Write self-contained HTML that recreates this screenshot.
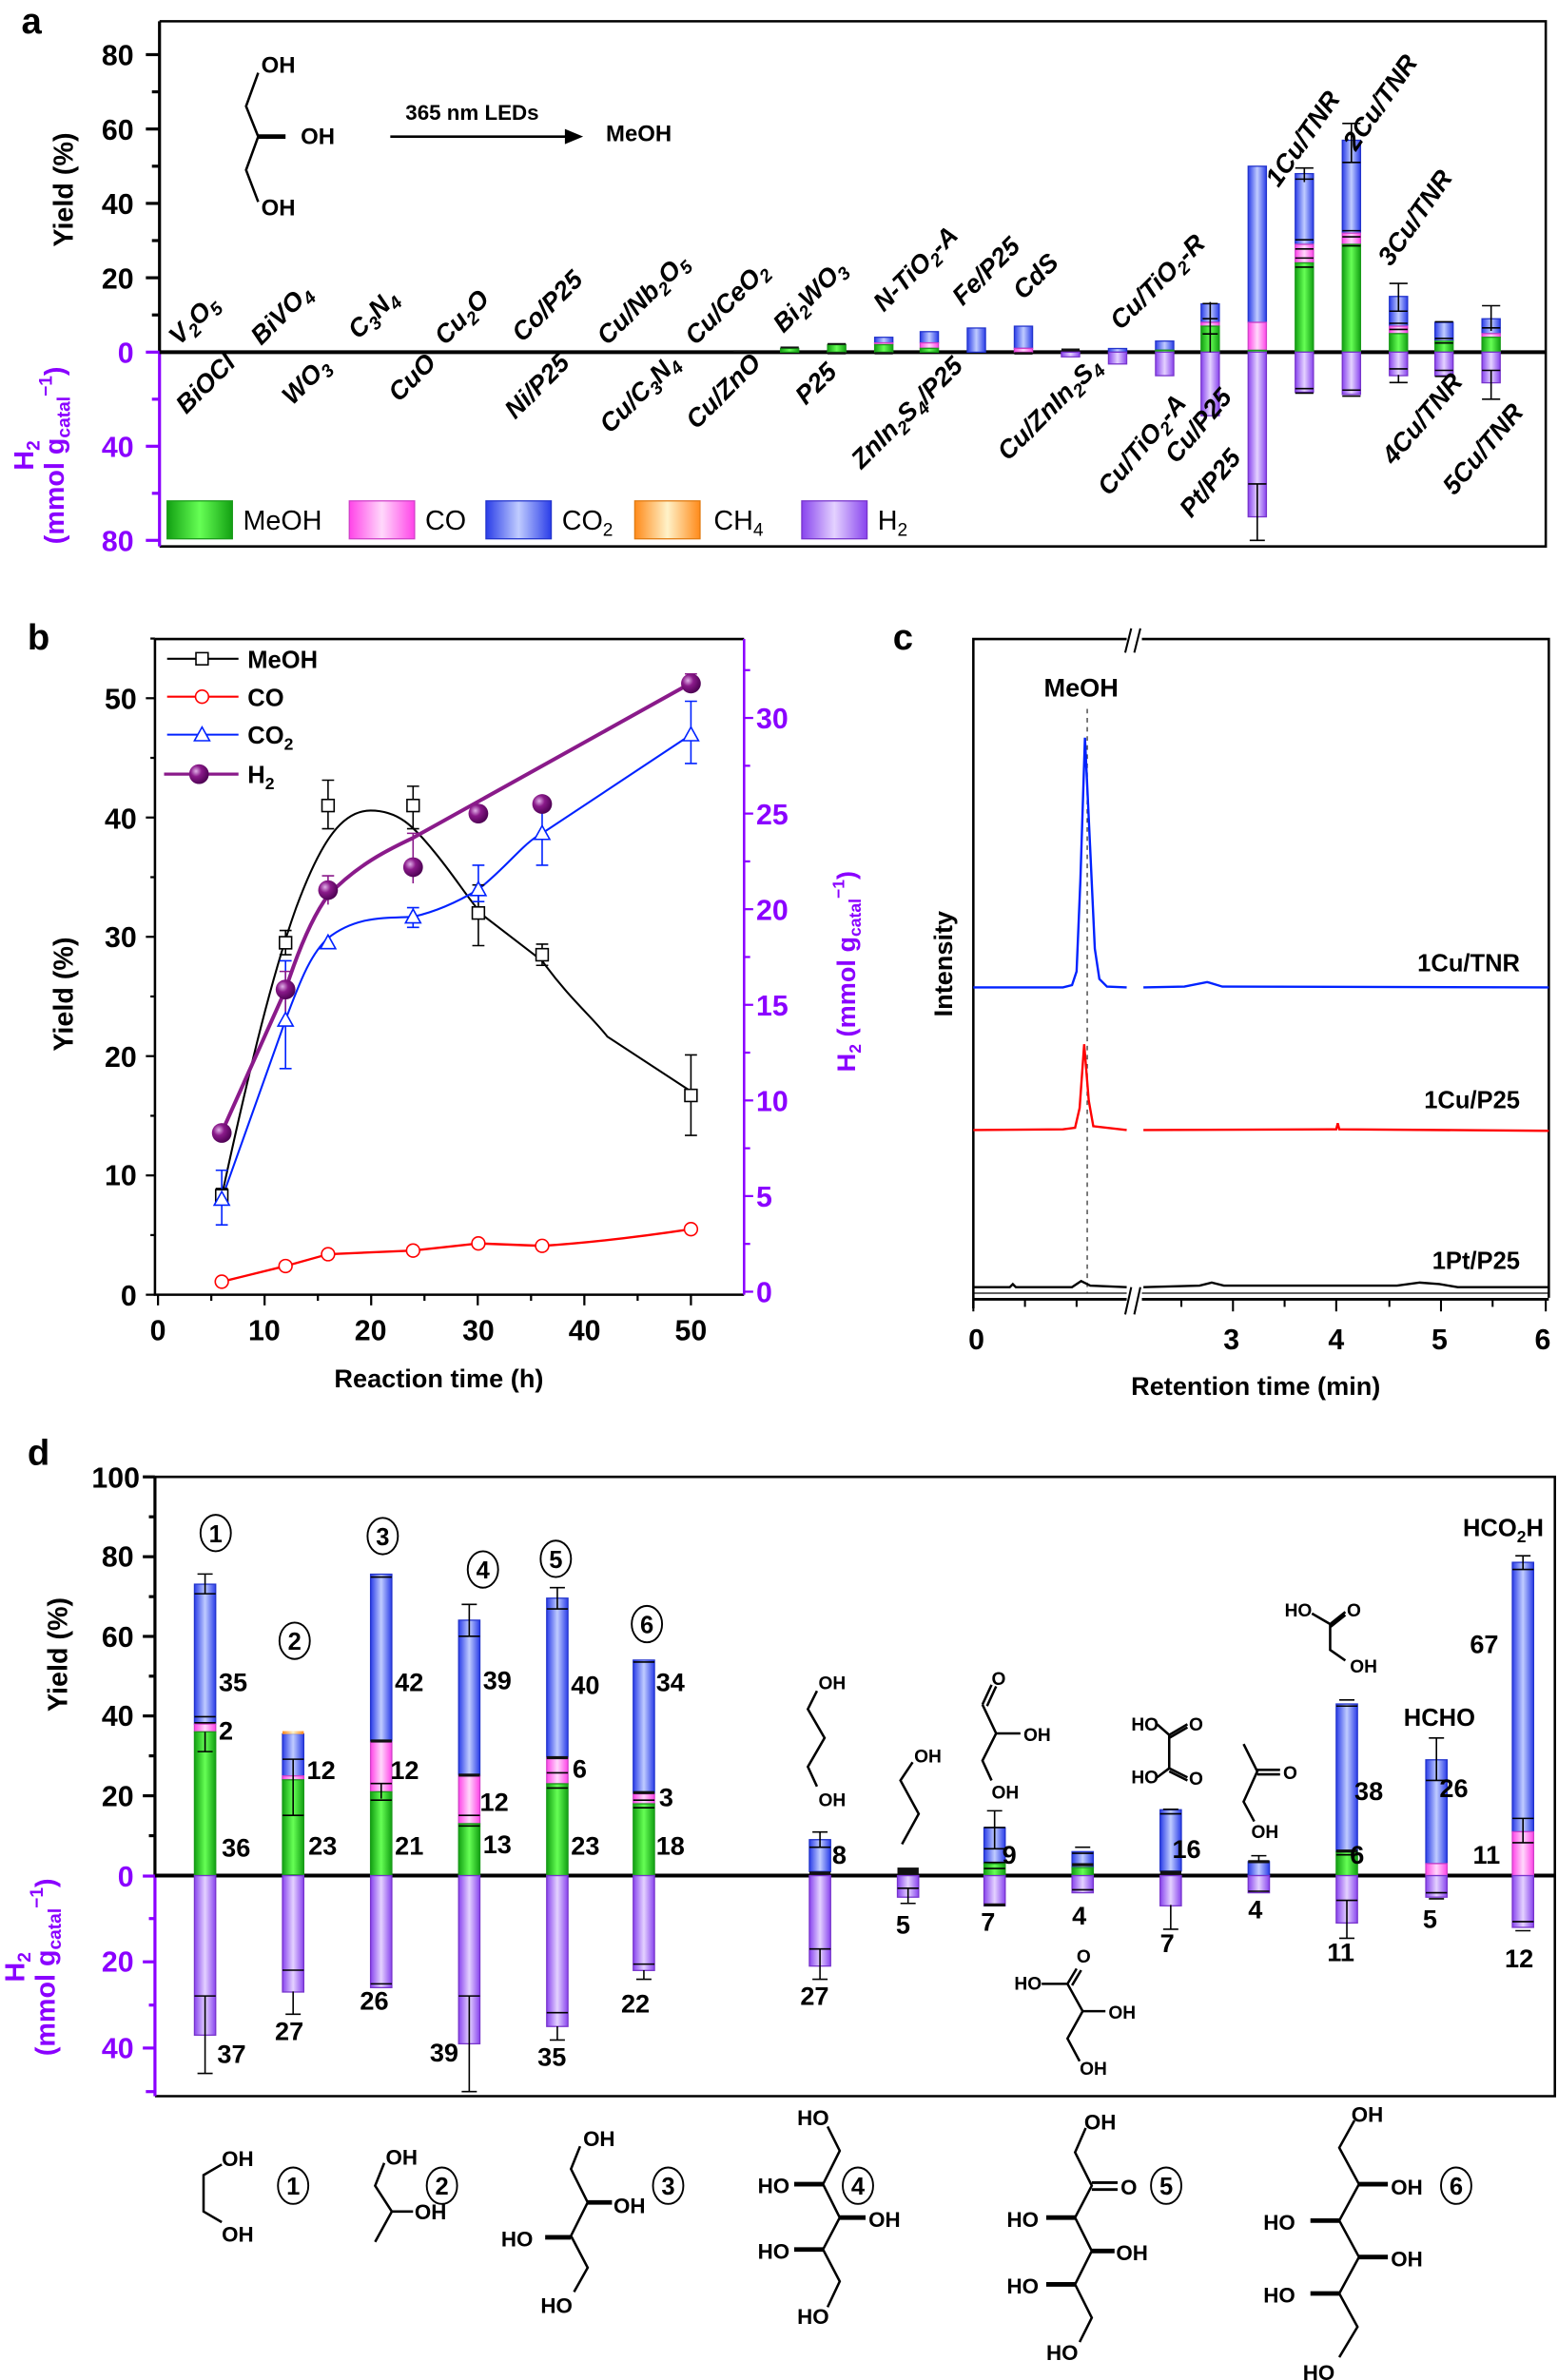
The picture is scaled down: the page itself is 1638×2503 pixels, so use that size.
<!DOCTYPE html>
<html><head><meta charset="utf-8"><style>
html,body{margin:0;padding:0;background:#fff}
svg{display:block}
text{font-family:"Liberation Sans",sans-serif}
.b{font-weight:bold}
.tk{font-weight:bold;font-size:19px}
.cat{font-weight:bold;font-style:italic;font-size:17px}
.num{font-weight:bold;font-size:17px}
.mol{font-weight:bold;font-size:12px}
.molb{font-weight:bold;font-size:14px}
.ln{stroke:#000;stroke-width:1.6;fill:none}
.g{fill:url(#gG);stroke:#1a9a1a;stroke-width:.8}
.p{fill:url(#gP);stroke:#d040c8;stroke-width:.8}
.c{fill:url(#gC);stroke:#2233cc;stroke-width:.8}
.h{fill:url(#gH);stroke:#7733cc;stroke-width:.8}
.k{fill:#111}
.e{stroke:#000;stroke-width:1;fill:none}
.pu{fill:#8a00ff}
</style></head><body>
<svg width="1638" height="2503" viewBox="0 0 1026 1568" xmlns="http://www.w3.org/2000/svg">
<defs>
<linearGradient id="gG"><stop offset="0" stop-color="#12a012"/><stop offset=".5" stop-color="#66ff55"/><stop offset="1" stop-color="#12a012"/></linearGradient>
<linearGradient id="gP"><stop offset="0" stop-color="#ff44e8"/><stop offset=".5" stop-color="#ffd8fb"/><stop offset="1" stop-color="#ff44e8"/></linearGradient>
<linearGradient id="gC"><stop offset="0" stop-color="#2a3de8"/><stop offset=".5" stop-color="#c0ccff"/><stop offset="1" stop-color="#2a3de8"/></linearGradient>
<linearGradient id="gO"><stop offset="0" stop-color="#ff8a1a"/><stop offset=".5" stop-color="#fff2c8"/><stop offset="1" stop-color="#ff8a1a"/></linearGradient>
<linearGradient id="gH"><stop offset="0" stop-color="#8844ee"/><stop offset=".5" stop-color="#e4d2ff"/><stop offset="1" stop-color="#8844ee"/></linearGradient>
<radialGradient id="gS" cx=".35" cy=".35" r=".7"><stop offset="0" stop-color="#e0b0e8"/><stop offset=".4" stop-color="#8a1a8a"/><stop offset="1" stop-color="#4a0050"/></radialGradient>
</defs>

<!-- ================= PANEL A ================= -->
<text x="14" y="22" class="b" font-size="24">a</text>
<path d="M105,14 H1018 V360 H105" class="ln" stroke-width="2.2"/>
<line x1="105" y1="14" x2="105" y2="232" stroke="#000" stroke-width="2"/>
<line x1="105" y1="232" x2="105" y2="360" stroke="#8a00ff" stroke-width="2"/>
<g stroke="#000" stroke-width="2">
<line x1="96" y1="36" x2="105" y2="36"/><line x1="100" y1="60.5" x2="105" y2="60.5"/>
<line x1="96" y1="85" x2="105" y2="85"/><line x1="100" y1="109.5" x2="105" y2="109.5"/>
<line x1="96" y1="134" x2="105" y2="134"/><line x1="100" y1="158.5" x2="105" y2="158.5"/>
<line x1="96" y1="183" x2="105" y2="183"/><line x1="100" y1="207.5" x2="105" y2="207.5"/>
</g>
<g stroke="#8a00ff" stroke-width="2">
<line x1="96" y1="232" x2="105" y2="232"/><line x1="100" y1="263" x2="105" y2="263"/>
<line x1="96" y1="294" x2="105" y2="294"/><line x1="100" y1="325" x2="105" y2="325"/><line x1="96" y1="356" x2="105" y2="356"/>
</g>
<g class="tk" text-anchor="end">
<text x="88" y="43">80</text><text x="88" y="92">60</text><text x="88" y="141">40</text><text x="88" y="190">20</text>
<text x="88" y="239" class="pu">0</text><text x="88" y="301" class="pu">40</text><text x="88" y="363" class="pu">80</text>
</g>
<text transform="translate(48,125) rotate(-90)" text-anchor="middle" class="b" font-size="18">Yield (%)</text>
<text transform="translate(22,300) rotate(-90)" text-anchor="middle" class="b pu" font-size="18">H<tspan font-size="12" dy="4">2</tspan></text>
<text transform="translate(42,300) rotate(-90)" text-anchor="middle" class="b pu" font-size="18">(mmol g<tspan font-size="12" dy="4">catal</tspan><tspan font-size="12" dy="-12">−1</tspan><tspan dy="8">)</tspan></text>
<path d="M170,48 L162,70 L170,90 L162,112 L170,133" class="ln"/>
<line x1="170" y1="90" x2="188" y2="90" stroke="#000" stroke-width="3"/>
<text x="172" y="48" class="b" font-size="15">OH</text>
<text x="198" y="95" class="b" font-size="15">OH</text>
<text x="172" y="142" class="b" font-size="15">OH</text>
<line x1="257" y1="90" x2="375" y2="90" stroke="#000" stroke-width="1.6"/>
<path d="M372,85 L384,90 L372,95 Z"/>
<text x="267" y="79" class="b" font-size="14">365 nm LEDs</text>
<text x="399" y="93" class="b" font-size="15">MeOH</text>
<line x1="105" y1="232" x2="1018" y2="232" stroke="#000" stroke-width="2.5"/>

<g>
<rect x="483" y="230.8" width="12" height="1.2" class="k"/>
<rect x="514" y="229.5" width="12" height="2.5" class="g"/><rect x="514" y="228.3" width="12" height="1.2" class="k"/>
<rect x="545" y="227.1" width="12" height="4.9" class="g"/><rect x="545" y="226" width="12" height="1.2" class="k"/><rect x="545" y="232" width="12" height="1.5" class="k"/>
<rect x="576" y="222.2" width="12" height="3.7" class="c"/><rect x="576" y="225.9" width="12" height="1.2" class="p"/><rect x="576" y="227.1" width="12" height="4.9" class="g"/><rect x="576" y="232" width="12" height="1.5" class="k"/>
<rect x="606" y="218.5" width="12" height="7.4" class="c"/><rect x="606" y="225.9" width="12" height="3.6" class="p"/><rect x="606" y="229.5" width="12" height="2.5" class="g"/>
<rect x="637" y="216.1" width="12" height="15.9" class="c"/>
<rect x="668" y="214.9" width="12" height="14.6" class="c"/><rect x="668" y="229.5" width="12" height="2.5" class="p"/><rect x="668" y="232" width="12" height="1.6" class="k"/>
<rect x="699" y="229.6" width="12" height="2.4" class="k"/><rect x="699" y="232" width="12" height="3.1" class="h"/>
<rect x="730" y="229.6" width="12" height="2.4" class="c"/><rect x="730" y="232" width="12" height="7.8" class="h"/>
<rect x="761" y="224.7" width="12" height="6" class="c"/><rect x="761" y="230.7" width="12" height="1.3" class="g"/><rect x="761" y="232" width="12" height="15.5" class="h"/>
<rect x="791" y="200.2" width="12" height="12.2" class="c"/><rect x="791" y="212.4" width="12" height="2.5" class="p"/><rect x="791" y="214.9" width="12" height="17.1" class="g"/><rect x="791" y="232" width="12" height="41.9" class="h"/>
<path d="M797,199 V232 M792,200 H802 M792,210 H802 M792,220 H802" class="e"/>
<rect x="822" y="109.5" width="12" height="102.9" class="c"/><rect x="822" y="212.4" width="12" height="18.4" class="p"/><rect x="822" y="230.8" width="12" height="1.2" class="g"/><rect x="822" y="232" width="12" height="108.5" class="h"/>
<path d="M828,318.8 V356 M823,356 H833 M822,318.8 H834" class="e"/>
<rect x="853" y="114.4" width="12" height="46.6" class="c"/><rect x="853" y="161" width="12" height="12.2" class="p"/><rect x="853" y="173.2" width="12" height="58.8" class="g"/><rect x="853" y="232" width="12" height="26.4" class="h"/>
<path d="M859,110.7 V120 M853,110.7 H865 M853,118 H865 M853,158 H865 M853,164 H865 M853,170 H865 M853,176 H865 M853,256 H865 M853,259 H865" class="e"/>
<rect x="884" y="92.4" width="12" height="61.2" class="c"/><rect x="884" y="153.6" width="12" height="7.4" class="p"/><rect x="884" y="161" width="12" height="71" class="g"/><rect x="884" y="232" width="12" height="27.9" class="h"/>
<path d="M890,81.3 V107 M884,81.3 H896 M884,107 H896 M884,152 H896 M884,156 H896 M884,162 H896 M884,257 H896 M884,261 H896" class="e"/>
<rect x="915" y="195.3" width="12" height="19.6" class="c"/><rect x="915" y="214.9" width="12" height="4.9" class="p"/><rect x="915" y="219.8" width="12" height="12.2" class="g"/><rect x="915" y="232" width="12" height="15.5" class="h"/>
<path d="M921,186.7 V205 M915,186.7 H927 M915,205 H927 M915,213 H927 M915,217 H927 M921,247 V252 M915,252 H927 M915,243 H927" class="e"/>
<rect x="945" y="212.4" width="12" height="12.3" class="c"/><rect x="945" y="224.7" width="12" height="7.3" class="g"/><rect x="945" y="232" width="12" height="15.5" class="h"/>
<path d="M945,212 H957 M945,223 H957 M945,226 H957 M945,244 H957 M945,248 H957" class="e"/>
<rect x="976" y="210" width="12" height="9.8" class="c"/><rect x="976" y="219.8" width="12" height="2.4" class="p"/><rect x="976" y="222.2" width="12" height="9.8" class="g"/><rect x="976" y="232" width="12" height="20.2" class="h"/>
<path d="M982,201.4 V218 M976,201.4 H988 M976,216 H988 M982,244 V263 M976,263 H988 M976,244 H988" class="e"/>
</g>

<g class="cat">
<text transform="translate(118,228) rotate(-45)">V<tspan font-size="12" dy="4">2</tspan><tspan dy="-4">O</tspan><tspan font-size="12" dy="4">5</tspan></text>
<text transform="translate(172,228) rotate(-45)">BiVO<tspan font-size="12" dy="4">4</tspan></text>
<text transform="translate(236,224) rotate(-45)">C<tspan font-size="12" dy="4">3</tspan><tspan dy="-4">N</tspan><tspan font-size="12" dy="4">4</tspan></text>
<text transform="translate(293,228) rotate(-45)">Cu<tspan font-size="12" dy="4">2</tspan><tspan dy="-4">O</tspan></text>
<text transform="translate(344,226) rotate(-45)">Co/P25</text>
<text transform="translate(400,228) rotate(-45)">Cu/Nb<tspan font-size="12" dy="4">2</tspan><tspan dy="-4">O</tspan><tspan font-size="12" dy="4">5</tspan></text>
<text transform="translate(458,228) rotate(-45)">Cu/CeO<tspan font-size="12" dy="4">2</tspan></text>
<text transform="translate(516,220) rotate(-45)">Bi<tspan font-size="12" dy="4">2</tspan><tspan dy="-4">WO</tspan><tspan font-size="12" dy="4">3</tspan></text>
<text transform="translate(582,206) rotate(-45)">N-TiO<tspan font-size="12" dy="4">2</tspan><tspan dy="-4">-A</tspan></text>
<text transform="translate(634,202) rotate(-45)">Fe/P25</text>
<text transform="translate(674,198) rotate(-45)">CdS</text>
<text transform="translate(738,218) rotate(-45)">Cu/TiO<tspan font-size="12" dy="4">2</tspan><tspan dy="-4">-R</tspan></text>
<text transform="translate(842,124) rotate(-55)">1Cu/TNR</text>
<text transform="translate(893,100) rotate(-55)">2Cu/TNR</text>
<text transform="translate(916,176) rotate(-55)">3Cu/TNR</text>
</g>
<g class="cat" text-anchor="end">
<text transform="translate(156,240) rotate(-45)">BiOCl</text>
<text transform="translate(218,242) rotate(-45)">WO<tspan font-size="12" dy="4">3</tspan></text>
<text transform="translate(288,240) rotate(-45)">CuO</text>
<text transform="translate(376,240) rotate(-45)">Ni/P25</text>
<text transform="translate(448,240) rotate(-45)">Cu/C<tspan font-size="12" dy="4">3</tspan><tspan dy="-4">N</tspan><tspan font-size="12" dy="4">4</tspan></text>
<text transform="translate(502,240) rotate(-45)">Cu/ZnO</text>
<text transform="translate(552,246) rotate(-45)">P25</text>
<text transform="translate(635,242) rotate(-45)">ZnIn<tspan font-size="12" dy="4">2</tspan><tspan dy="-4">S</tspan><tspan font-size="12" dy="4">4</tspan><tspan dy="-4">/P25</tspan></text>
<text transform="translate(726,242) rotate(-45)">Cu/ZnIn<tspan font-size="12" dy="4">2</tspan><tspan dy="-4">S</tspan><tspan font-size="12" dy="4">4</tspan></text>
<text transform="translate(782,266) rotate(-50)">Cu/TiO<tspan font-size="12" dy="4">2</tspan><tspan dy="-4">-A</tspan></text>
<text transform="translate(812,262) rotate(-50)">Cu/P25</text>
<text transform="translate(818,302) rotate(-50)">Pt/P25</text>
<text transform="translate(964,252) rotate(-50)">4Cu/TNR</text>
<text transform="translate(1004,272) rotate(-50)">5Cu/TNR</text>
</g>
<g font-size="18">
<rect x="110" y="330" width="43" height="25" class="g"/><text x="160" y="349">MeOH</text>
<rect x="230" y="330" width="43" height="25" class="p"/><text x="280" y="349">CO</text>
<rect x="320" y="330" width="43" height="25" class="c"/><text x="370" y="349">CO<tspan font-size="12" dy="4">2</tspan></text>
<rect x="418" y="330" width="43" height="25" fill="url(#gO)" stroke="#e07a10" stroke-width=".8"/><text x="470" y="349">CH<tspan font-size="12" dy="4">4</tspan></text>
<rect x="528" y="330" width="43" height="25" class="h"/><text x="578" y="349">H<tspan font-size="12" dy="4">2</tspan></text>
</g>

<!-- ================= PANEL B ================= -->
<text x="18" y="428" class="b" font-size="24">b</text>
<path d="M102,421 H490 M102,421 V853 H490" class="ln" stroke-width="1.6"/>
<line x1="490" y1="421" x2="490" y2="853" stroke="#8a00ff" stroke-width="1.6"/>
<g stroke="#000" stroke-width="1.4">
<line x1="96" y1="853" x2="102" y2="853"/><line x1="96" y1="774.4" x2="102" y2="774.4"/><line x1="96" y1="695.8" x2="102" y2="695.8"/><line x1="96" y1="617.2" x2="102" y2="617.2"/><line x1="96" y1="538.6" x2="102" y2="538.6"/><line x1="96" y1="460" x2="102" y2="460"/>
<line x1="99" y1="813.7" x2="102" y2="813.7"/><line x1="99" y1="735.1" x2="102" y2="735.1"/><line x1="99" y1="656.5" x2="102" y2="656.5"/><line x1="99" y1="577.9" x2="102" y2="577.9"/><line x1="99" y1="499.3" x2="102" y2="499.3"/><line x1="99" y1="420.7" x2="102" y2="420.7"/>
<line x1="104" y1="853" x2="104" y2="860"/><line x1="174.2" y1="853" x2="174.2" y2="860"/><line x1="244.4" y1="853" x2="244.4" y2="860"/><line x1="314.6" y1="853" x2="314.6" y2="860"/><line x1="384.8" y1="853" x2="384.8" y2="860"/><line x1="455" y1="853" x2="455" y2="860"/>
<line x1="139.1" y1="853" x2="139.1" y2="857"/><line x1="209.3" y1="853" x2="209.3" y2="857"/><line x1="279.5" y1="853" x2="279.5" y2="857"/><line x1="349.7" y1="853" x2="349.7" y2="857"/><line x1="419.9" y1="853" x2="419.9" y2="857"/>
</g>
<g stroke="#8a00ff" stroke-width="1.4">
<line x1="490" y1="851" x2="496" y2="851"/><line x1="490" y1="788" x2="496" y2="788"/><line x1="490" y1="725" x2="496" y2="725"/><line x1="490" y1="662" x2="496" y2="662"/><line x1="490" y1="599" x2="496" y2="599"/><line x1="490" y1="536" x2="496" y2="536"/><line x1="490" y1="473" x2="496" y2="473"/>
<line x1="490" y1="819.5" x2="494" y2="819.5"/><line x1="490" y1="756.5" x2="494" y2="756.5"/><line x1="490" y1="693.5" x2="494" y2="693.5"/><line x1="490" y1="630.5" x2="494" y2="630.5"/><line x1="490" y1="567.5" x2="494" y2="567.5"/><line x1="490" y1="504.5" x2="494" y2="504.5"/><line x1="490" y1="441.5" x2="494" y2="441.5"/>
</g>
<g class="tk" text-anchor="end" font-size="18">
<text x="90" y="860">0</text><text x="90" y="781">10</text><text x="90" y="703">20</text><text x="90" y="624">30</text><text x="90" y="546">40</text><text x="90" y="467">50</text>
</g>
<g class="tk pu" font-size="18">
<text x="498" y="858">0</text><text x="498" y="795">5</text><text x="498" y="732">10</text><text x="498" y="669">15</text><text x="498" y="606">20</text><text x="498" y="543">25</text><text x="498" y="480">30</text>
</g>
<g class="tk" text-anchor="middle" font-size="18">
<text x="104" y="883">0</text><text x="174" y="883">10</text><text x="244" y="883">20</text><text x="315" y="883">30</text><text x="385" y="883">40</text><text x="455" y="883">50</text>
</g>
<text x="289" y="914" text-anchor="middle" class="b" font-size="17">Reaction time (h)</text>
<text transform="translate(48,655) rotate(-90)" text-anchor="middle" class="b" font-size="18">Yield (%)</text>
<text transform="translate(563,640) rotate(-90)" text-anchor="middle" class="b pu" font-size="17">H<tspan font-size="11" dy="4">2</tspan><tspan dy="-4"> (mmol g</tspan><tspan font-size="11" dy="4">catal</tspan><tspan font-size="11" dy="-11">−1</tspan><tspan dy="7">)</tspan></text>
<path d="M146,788 C165,700 180,640 195,598 C212,552 226,534 244,534 C262,534 272,544 285,560 C300,578 308,592 318,603 L357,633 C375,658 390,670 400,683 L455,719" fill="none" stroke="#000" stroke-width="1.3"/>
<path d="M146,844.4 L188,834.1 L216,826.3 L272,823.9 L315,819.2 L357,820.8 Q400,818 455,809.8" fill="none" stroke="#ff0000" stroke-width="1.5"/>
<path d="M146,790 L188,672 C198,645 205,628 216,618 C235,603 255,605 272,604 C290,600 305,592 315,586 C335,570 345,555 357,549 L455,484" fill="none" stroke="#0022ff" stroke-width="1.3"/>
<path d="M146,746 L188,652 C200,615 210,598 216,590 C235,570 255,560 272,552 L455,450" fill="none" stroke="#8a1a8a" stroke-width="2.5"/>
<g stroke="#000" stroke-width="1">
<path d="M146,783 V793 M142,783 H150 M142,793 H150 M188,613 V629 M184,613 H192 M184,629 H192 M216,514 V546 M212,514 H220 M212,546 H220 M272,518 V546 M268,518 H276 M268,546 H276 M315,583 V623 M311,583 H319 M311,623 H319 M357,622 V636 M353,622 H361 M353,636 H361 M455,695 V748 M451,695 H459 M451,748 H459"/>
</g>
<g stroke="#0022ff" stroke-width="1">
<path d="M146,771 V807 M142,771 H150 M142,807 H150 M188,633 V704 M184,633 H192 M184,704 H192 M272,598 V611 M268,598 H276 M268,611 H276 M315,570 V594 M311,570 H319 M311,594 H319 M357,527 V570 M353,527 H361 M353,570 H361 M455,462 V503 M451,462 H459 M451,503 H459"/>
</g>
<g stroke="#8a1a8a" stroke-width="1"><path d="M188,640 V668 M184,640 H192 M216,577 V596 M212,577 H220 M272,549 V582 M268,549 H276 M455,444 V456 M451,444 H459"/></g>
<g fill="#fff" stroke="#000" stroke-width="1">
<rect x="142" y="783.8" width="8" height="8"/><rect x="184" y="617.1" width="8" height="8"/><rect x="212" y="526.7" width="8" height="8"/><rect x="268" y="526.7" width="8" height="8"/><rect x="311" y="597.5" width="8" height="8"/><rect x="353" y="625" width="8" height="8"/><rect x="451" y="717.7" width="8" height="8"/>
</g>
<g fill="#fff" stroke="#ff0000" stroke-width="1">
<circle cx="146" cy="844.4" r="4.3"/><circle cx="188" cy="834.1" r="4.3"/><circle cx="216" cy="826.3" r="4.3"/><circle cx="272" cy="823.9" r="4.3"/><circle cx="315" cy="819.2" r="4.3"/><circle cx="357" cy="820.8" r="4.3"/><circle cx="455" cy="809.8" r="4.3"/>
</g>
<g fill="#fff" stroke="#0022ff" stroke-width="1">
<path d="M146,785 L151,794 H141 Z M188,667 L193,676 H183 Z M216,616 L221,625 H211 Z M272,599 L277,608 H267 Z M315,581 L320,590 H310 Z M357,544 L362,553 H352 Z M455,479 L460,488 H450 Z"/>
</g>
<g fill="url(#gS)">
<circle cx="146" cy="746.4" r="6.5"/><circle cx="188" cy="651.9" r="6.5"/><circle cx="216" cy="586.4" r="6.5"/><circle cx="272" cy="571.3" r="6.5"/><circle cx="315" cy="536" r="6.5"/><circle cx="357" cy="529.7" r="6.5"/><circle cx="455" cy="450.3" r="6.5"/>
</g>
<line x1="110" y1="434" x2="157" y2="434" stroke="#000" stroke-width="1.3"/><rect x="129" y="430" width="8" height="8" fill="#fff" stroke="#000"/>
<line x1="110" y1="459" x2="157" y2="459" stroke="#f00" stroke-width="1.3"/><circle cx="133" cy="459" r="4.3" fill="#fff" stroke="#f00"/>
<line x1="110" y1="484" x2="157" y2="484" stroke="#0022ff" stroke-width="1.3"/><path d="M133,479 L138,488 H128 Z" fill="#fff" stroke="#0022ff"/>
<line x1="108" y1="510" x2="157" y2="510" stroke="#8a1a8a" stroke-width="2"/><circle cx="131" cy="510" r="6.5" fill="url(#gS)"/>
<g class="b" font-size="16">
<text x="163" y="440">MeOH</text><text x="163" y="465">CO</text><text x="163" y="490">CO<tspan font-size="11" dy="4">2</tspan></text><text x="163" y="516">H<tspan font-size="11" dy="4">2</tspan></text>
</g>

<!-- ================= PANEL C ================= -->
<text x="588" y="428" class="b" font-size="24">c</text>
<path d="M641,862 V421 H1020 V855" class="ln" stroke-width="1.8"/>
<line x1="641" y1="856" x2="1020" y2="856" stroke="#000" stroke-width="1.8"/>
<line x1="641" y1="852" x2="1020" y2="852" stroke="#000" stroke-width=".8"/>
<rect x="742" y="416" width="10" height="10" fill="#fff"/>
<rect x="742" y="849" width="10" height="14" fill="#fff"/>
<path d="M741,430 L745,414 M747,430 L751,414 M741,866 L745,848 M747,866 L751,848" stroke="#000" stroke-width="1.3"/>
<g stroke="#000" stroke-width="1.3">
<line x1="641" y1="856" x2="641" y2="864"/><line x1="812" y1="856" x2="812" y2="864"/><line x1="880" y1="856" x2="880" y2="864"/><line x1="949" y1="856" x2="949" y2="864"/><line x1="1018" y1="856" x2="1018" y2="864"/>
<line x1="675" y1="856" x2="675" y2="861"/><line x1="709" y1="856" x2="709" y2="861"/><line x1="778" y1="856" x2="778" y2="861"/><line x1="846" y1="856" x2="846" y2="861"/><line x1="915" y1="856" x2="915" y2="861"/><line x1="983" y1="856" x2="983" y2="861"/>
</g>
<g class="tk" text-anchor="middle" font-size="18">
<text x="643" y="889">0</text><text x="811" y="889">3</text><text x="880" y="889">4</text><text x="948" y="889">5</text><text x="1016" y="889">6</text>
</g>
<text x="827" y="919" text-anchor="middle" class="b" font-size="17">Retention time (min)</text>
<text transform="translate(627,635) rotate(-90)" text-anchor="middle" class="b" font-size="17">Intensity</text>
<text x="712" y="459" text-anchor="middle" class="b" font-size="17">MeOH</text>
<line x1="716" y1="467" x2="716" y2="852" stroke="#333" stroke-width=".8" stroke-dasharray="3,3"/>
<path d="M641,650.5 L700,650.5 L706,649 L709,640 L711.5,580 L714.5,486 L718,560 L721,625 L724,645 L729,650 L742,650.5 M753,650.5 L780,650 L795,647 L805,650 L1020,650.5" fill="none" stroke="#0022ff" stroke-width="1.5"/>
<path d="M641,744.5 L700,744 L708,743 L711,730 L714,688 L717,725 L720,742 L742,744.5 M753,744.5 L880,744 L881,740 L882,744 L1020,745" fill="none" stroke="#ff0000" stroke-width="1.5"/>
<path d="M641,848 L665,848 L667,846 L669,848 L706,848 L712,844 L718,847 L742,848 M753,848 L790,847 L798,845 L806,847 L920,847 L935,845 L948,846 L960,848 L1020,848" fill="none" stroke="#000" stroke-width="1.5"/>
<g class="b" font-size="16" text-anchor="end">
<text x="1001" y="640">1Cu/TNR</text><text x="1001" y="730">1Cu/P25</text><text x="1001" y="836">1Pt/P25</text>
</g>

<!-- ================= PANEL D ================= -->
<text x="18" y="965" class="b" font-size="24">d</text>
<path d="M102,973 H1024 V1381 H102" class="ln" stroke-width="2.2"/>
<line x1="102" y1="973" x2="102" y2="1236" stroke="#000" stroke-width="2"/>
<line x1="102" y1="1236" x2="102" y2="1381" stroke="#8a00ff" stroke-width="2"/>
<g stroke="#000" stroke-width="2">
<line x1="94" y1="973" x2="102" y2="973"/><line x1="94" y1="1025.6" x2="102" y2="1025.6"/><line x1="94" y1="1078.1" x2="102" y2="1078.1"/><line x1="94" y1="1130.5" x2="102" y2="1130.5"/><line x1="94" y1="1183.1" x2="102" y2="1183.1"/>
<line x1="98" y1="999.3" x2="102" y2="999.3"/><line x1="98" y1="1051.9" x2="102" y2="1051.9"/><line x1="98" y1="1104.3" x2="102" y2="1104.3"/><line x1="98" y1="1156.8" x2="102" y2="1156.8"/><line x1="98" y1="1209.4" x2="102" y2="1209.4"/>
</g>
<g stroke="#8a00ff" stroke-width="2">
<line x1="94" y1="1236" x2="102" y2="1236"/><line x1="94" y1="1292.5" x2="102" y2="1292.5"/><line x1="94" y1="1349.3" x2="102" y2="1349.3"/>
<line x1="98" y1="1264" x2="102" y2="1264"/><line x1="98" y1="1321" x2="102" y2="1321"/><line x1="96" y1="1378" x2="102" y2="1378"/>
</g>
<g class="tk" text-anchor="end" font-size="18">
<text x="92" y="980">100</text><text x="88" y="1032">80</text><text x="88" y="1085">60</text><text x="88" y="1137">40</text><text x="88" y="1190">20</text>
<text x="88" y="1243" class="pu">0</text><text x="88" y="1299" class="pu">20</text><text x="88" y="1356" class="pu">40</text>
</g>
<text transform="translate(44,1090) rotate(-90)" text-anchor="middle" class="b" font-size="18">Yield (%)</text>
<text transform="translate(16,1296) rotate(-90)" text-anchor="middle" class="b pu" font-size="18">H<tspan font-size="12" dy="4">2</tspan></text>
<text transform="translate(36,1296) rotate(-90)" text-anchor="middle" class="b pu" font-size="18">(mmol g<tspan font-size="12" dy="4">catal</tspan><tspan font-size="12" dy="-12">−1</tspan><tspan dy="8">)</tspan></text>
<line x1="102" y1="1235.7" x2="1024" y2="1235.7" stroke="#000" stroke-width="2.5"/>

<g>
<rect x="128" y="1043.7" width="14" height="92.1" class="c"/><rect x="128" y="1135.8" width="14" height="5.2" class="p"/><rect x="128" y="1141" width="14" height="94.7" class="g"/><rect x="128" y="1235.7" width="14" height="105.1" class="h"/>
<path d="M135,1037 V1050 M130,1037 H140 M128,1050 H142 M128,1131 H142 M128,1135 H142 M135,1141 V1154 M130,1154 H140 M135,1315 V1366 M130,1366 H140 M128,1315 H142" class="e"/>
<rect x="186" y="1142.3" width="14" height="30.3" class="c"/><rect x="186" y="1170" width="14" height="2.6" class="p"/><rect x="186" y="1172.6" width="14" height="62.6" class="g"/><rect x="186" y="1235.7" width="14" height="76.7" class="h"/>
<rect x="186" y="1140.5" width="14" height="2" fill="url(#gO)"/>
<path d="M186,1159 H200 M193,1159 V1196 M186,1196 H200 M186,1298 H200 M193,1312 V1327 M188,1327 H198" class="e"/>
<rect x="244" y="1037.1" width="14" height="110.5" class="c"/><rect x="244" y="1147.6" width="14" height="32.9" class="p"/><rect x="244" y="1180.5" width="14" height="55.2" class="g"/><rect x="244" y="1235.7" width="14" height="73.8" class="h"/>
<path d="M244,1039 H258 M244,1147 H258 M251,1175 V1185 M244,1175 H258 M244,1186 H258 M244,1307 H258" class="e"/><rect x="244" y="1146" width="14" height="2" class="k"/>
<rect x="302" y="1067.4" width="14" height="102.5" class="c"/><rect x="302" y="1169.9" width="14" height="31.6" class="p"/><rect x="302" y="1201.5" width="14" height="34.2" class="g"/><rect x="302" y="1235.7" width="14" height="110.8" class="h"/>
<path d="M309,1057 V1078 M304,1057 H314 M302,1078 H316 M302,1196 H316 M302,1203 H316 M302,1315 H316 M309,1315 V1378 M304,1378 H314" class="e"/><rect x="302" y="1168.5" width="14" height="2" class="k"/>
<rect x="360" y="1052.9" width="14" height="105.2" class="c"/><rect x="360" y="1158.1" width="14" height="17.1" class="p"/><rect x="360" y="1175.2" width="14" height="60.5" class="g"/><rect x="360" y="1235.7" width="14" height="99.4" class="h"/>
<path d="M367,1046 V1060 M362,1046 H372 M360,1060 H374 M360,1168 H374 M360,1178 H374 M360,1326 H374 M367,1335 V1344 M362,1344 H372" class="e"/><rect x="360" y="1157" width="14" height="2" class="k"/>
<rect x="417" y="1093.7" width="14" height="88.1" class="c"/><rect x="417" y="1181.8" width="14" height="6.6" class="p"/><rect x="417" y="1188.4" width="14" height="47.3" class="g"/><rect x="417" y="1235.7" width="14" height="62.5" class="h"/>
<path d="M417,1095 H431 M417,1186 H431 M417,1191 H431 M424,1298 V1304 M419,1304 H429 M417,1294 H431" class="e"/><rect x="417" y="1180" width="14" height="2" class="k"/>
<rect x="533" y="1212" width="14" height="21" class="c"/><rect x="533" y="1233" width="14" height="2.7" class="k"/><rect x="533" y="1235.7" width="14" height="59.6" class="h"/>
<path d="M540,1207 V1217 M535,1207 H545 M533,1217 H547 M540,1284 V1304 M533,1284 H547 M535,1304 H545" class="e"/>
<rect x="591" y="1230.4" width="14" height="5.3" class="k"/><rect x="591" y="1235.7" width="14" height="14.2" class="h"/>
<path d="M598,1244 V1254 M593,1254 H603 M591,1244 H605" class="e"/>
<rect x="648" y="1204.1" width="14" height="23.7" class="c"/><rect x="648" y="1227.8" width="14" height="7.9" class="g"/><rect x="648" y="1235.7" width="14" height="19.9" class="h"/>
<path d="M655,1193 V1218 M650,1193 H660 M648,1204 H662 M648,1218 H662 M648,1227 H662 M648,1231 H662" class="e"/><rect x="648" y="1254" width="14" height="2" class="k"/>
<rect x="706" y="1219.9" width="14" height="10.5" class="c"/><rect x="706" y="1230.4" width="14" height="5.3" class="g"/><rect x="706" y="1235.7" width="14" height="11.3" class="h"/><rect x="706" y="1227.5" width="14" height="2" class="k"/>
<path d="M708,1217 H718 M706,1221 H720 M706,1245 H720" class="e"/>
<rect x="764" y="1192.3" width="14" height="40.4" class="c"/><rect x="764" y="1232.5" width="14" height="3.2" class="k"/><rect x="764" y="1235.7" width="14" height="19.9" class="h"/>
<path d="M766,1192 H776 M764,1195 H778 M771,1255 V1271 M766,1271 H776" class="e"/>
<rect x="822" y="1226.5" width="14" height="9.2" class="c"/><rect x="822" y="1235.7" width="14" height="11.3" class="h"/><rect x="822" y="1225.5" width="14" height="2" class="k"/>
<path d="M824,1222.6 H834 M829,1222.6 V1226 M822,1246 H836" class="e"/>
<rect x="880" y="1122.6" width="14" height="97.3" class="c"/><rect x="880" y="1219.9" width="14" height="15.8" class="g"/><rect x="880" y="1235.7" width="14" height="31.2" class="h"/>
<path d="M882,1120 H892 M880,1124 H894 M880,1222 H894 M887,1252 V1277 M880,1252 H894 M882,1277 H892" class="e"/><rect x="880" y="1218.5" width="14" height="2" class="k"/>
<rect x="939" y="1159.4" width="14" height="68.4" class="c"/><rect x="939" y="1227.8" width="14" height="7.9" class="p"/><rect x="939" y="1235.7" width="14" height="14.2" class="h"/>
<path d="M946,1145 V1173 M941,1145 H951 M939,1173 H953 M939,1247 H953 M941,1251 H951" class="e"/>
<rect x="996" y="1029.3" width="14" height="177.5" class="c"/><rect x="996" y="1206.8" width="14" height="28.9" class="p"/><rect x="996" y="1235.7" width="14" height="34.1" class="h"/>
<path d="M1003,1025 V1034 M998,1025 H1008 M996,1034 H1010 M1003,1198 V1214 M996,1198 H1010 M996,1214 H1010 M996,1266 H1010 M998,1272 H1008" class="e"/>
</g>
<g class="num">
<text x="144" y="1114">35</text><text x="144" y="1146">2</text><text x="146" y="1223">36</text><text x="143" y="1359">37</text>
<text x="202" y="1172">12</text><text x="203" y="1222">23</text><text x="181" y="1344">27</text>
<text x="260" y="1114">42</text><text x="257" y="1172">12</text><text x="260" y="1222">21</text><text x="237" y="1324">26</text>
<text x="318" y="1113">39</text><text x="316" y="1193">12</text><text x="318" y="1221">13</text><text x="283" y="1358">39</text>
<text x="376" y="1116">40</text><text x="377" y="1171">6</text><text x="376" y="1222">23</text><text x="354" y="1361">35</text>
<text x="432" y="1114">34</text><text x="434" y="1190">3</text><text x="432" y="1222">18</text><text x="409" y="1326">22</text>
<text x="548" y="1228">8</text><text x="527" y="1321">27</text>
<text x="590" y="1274">5</text>
<text x="660" y="1228">9</text><text x="646" y="1272">7</text>
<text x="706" y="1268">4</text>
<text x="772" y="1224">16</text><text x="764" y="1286">7</text>
<text x="822" y="1264">4</text>
<text x="892" y="1186">38</text><text x="889" y="1228">6</text><text x="874" y="1292">11</text>
<text x="948" y="1184">26</text><text x="937" y="1270">5</text>
<text x="968" y="1089">67</text><text x="970" y="1228">11</text><text x="991" y="1296">12</text>
</g>
<text x="948" y="1137" text-anchor="middle" class="b" font-size="16">HCHO</text>
<text x="990" y="1012" text-anchor="middle" class="b" font-size="16">HCO<tspan font-size="11" dy="4">2</tspan><tspan dy="-4">H</tspan></text>
<g fill="none" stroke="#000" stroke-width="1.2">
<ellipse cx="142" cy="1010" rx="10" ry="12"/><ellipse cx="194" cy="1081" rx="10" ry="12"/><ellipse cx="252" cy="1012" rx="10" ry="12"/><ellipse cx="318" cy="1034" rx="10" ry="12"/><ellipse cx="366" cy="1027" rx="10" ry="12"/><ellipse cx="426" cy="1070" rx="10" ry="12"/>
</g>
<g class="b" font-size="16" text-anchor="middle">
<text x="142" y="1016">1</text><text x="194" y="1087">2</text><text x="252" y="1018">3</text><text x="318" y="1040">4</text><text x="366" y="1033">5</text><text x="426" y="1076">6</text>
</g>
<g class="ln" stroke-width="1.2">
<path d="M538,1114 L532,1126 L543,1145 L532,1164 L538,1177"/>
<path d="M601,1161 L593,1173 L605,1195 L594,1215"/>
<path d="M653,1110 L647,1123 M656,1111 L650,1124 M647,1123 L656,1142 L647,1160 L653,1173 M656,1142 H672"/>
<path d="M762,1136 L770,1143 L782,1136 M770,1145 L782,1138 M770,1143 V1165 L782,1171 M770,1167 L782,1173 M770,1165 L762,1171"/>
<path d="M819,1149 L828,1167 L819,1187 L826,1200 M828,1166 H843 M828,1169 H843"/>
<path d="M864,1063 L876,1070 L886,1062 M876,1072 L886,1064 M876,1070 V1087 L886,1094"/>
<path d="M709,1297 L703,1307 M712,1298 L706,1308 M686,1307 H703 L713,1325 L703,1343 L711,1358 M713,1325 H728"/>
</g>
<g class="mol">
<text x="539" y="1113">OH</text><text x="539" y="1190">OH</text>
<text x="602" y="1161">OH</text>
<text x="653" y="1110">O</text><text x="674" y="1147">OH</text><text x="653" y="1185">OH</text>
<text x="745" y="1140">HO</text><text x="783" y="1140">O</text><text x="745" y="1175">HO</text><text x="783" y="1176">O</text>
<text x="845" y="1172">O</text><text x="824" y="1211">OH</text>
<text x="846" y="1065">HO</text><text x="887" y="1065">O</text><text x="889" y="1102">OH</text>
<text x="709" y="1293">O</text><text x="668" y="1311">HO</text><text x="730" y="1330">OH</text><text x="711" y="1367">OH</text>
</g>

<g class="ln" stroke-width="1.5">
<path d="M146,1426 L134,1433 V1457 L146,1464"/>
<path d="M253,1425 L247,1440 L258,1457 L247,1477 M258,1457 H272"/>
<path d="M382,1414 L376,1429 L387,1451 L376,1473 L387,1494 L378,1510"/>
<path d="M545,1401 L553,1417 L542,1439 L553,1461 L542,1482 L553,1503 L545,1520"/>
<path d="M715,1402 L708,1418 L719,1440 L708,1461 L719,1483 L708,1505 L719,1527 L711,1543"/>
<path d="M892,1397 L882,1415 L895,1439 L882,1463 L895,1487 L882,1511 L894,1533 L882,1553"/>
</g>
<g stroke="#000" stroke-width="3">
<path d="M387,1451 H403 M359,1474 H376 M523,1439 H542 M553,1461 H570 M523,1482 H542 M689,1461 H708 M719,1483 H734 M689,1505 H708 M895,1439 H914 M863,1463 H882 M895,1487 H914 M863,1511 H882"/>
<path d="M719,1438 H736 M719,1442.5 H736" stroke-width="1.8"/>
</g>
<g class="molb">
<text x="146" y="1427">OH</text><text x="146" y="1477">OH</text>
<text x="254" y="1426">OH</text><text x="273" y="1462">OH</text>
<text x="384" y="1414">OH</text><text x="404" y="1458">OH</text><text x="330" y="1480">HO</text><text x="356" y="1524">HO</text>
<text x="525" y="1400">HO</text><text x="499" y="1445">HO</text><text x="572" y="1467">OH</text><text x="499" y="1488">HO</text><text x="525" y="1531">HO</text>
<text x="714" y="1403">OH</text><text x="738" y="1446">O</text><text x="663" y="1467">HO</text><text x="735" y="1489">OH</text><text x="663" y="1511">HO</text><text x="689" y="1555">HO</text>
<text x="890" y="1398">OH</text><text x="916" y="1446">OH</text><text x="832" y="1469">HO</text><text x="916" y="1493">OH</text><text x="832" y="1517">HO</text><text x="858" y="1568">HO</text>
</g>
<g fill="none" stroke="#000" stroke-width="1.2">
<ellipse cx="193" cy="1440" rx="10" ry="12"/><ellipse cx="291" cy="1440" rx="10" ry="12"/><ellipse cx="440" cy="1440" rx="10" ry="12"/><ellipse cx="565" cy="1440" rx="10" ry="12"/><ellipse cx="768" cy="1440" rx="10" ry="12"/><ellipse cx="959" cy="1440" rx="10" ry="12"/>
</g>
<g class="b" font-size="16" text-anchor="middle">
<text x="193" y="1446">1</text><text x="291" y="1446">2</text><text x="440" y="1446">3</text><text x="565" y="1446">4</text><text x="768" y="1446">5</text><text x="959" y="1446">6</text>
</g>
</svg>
</body></html>
